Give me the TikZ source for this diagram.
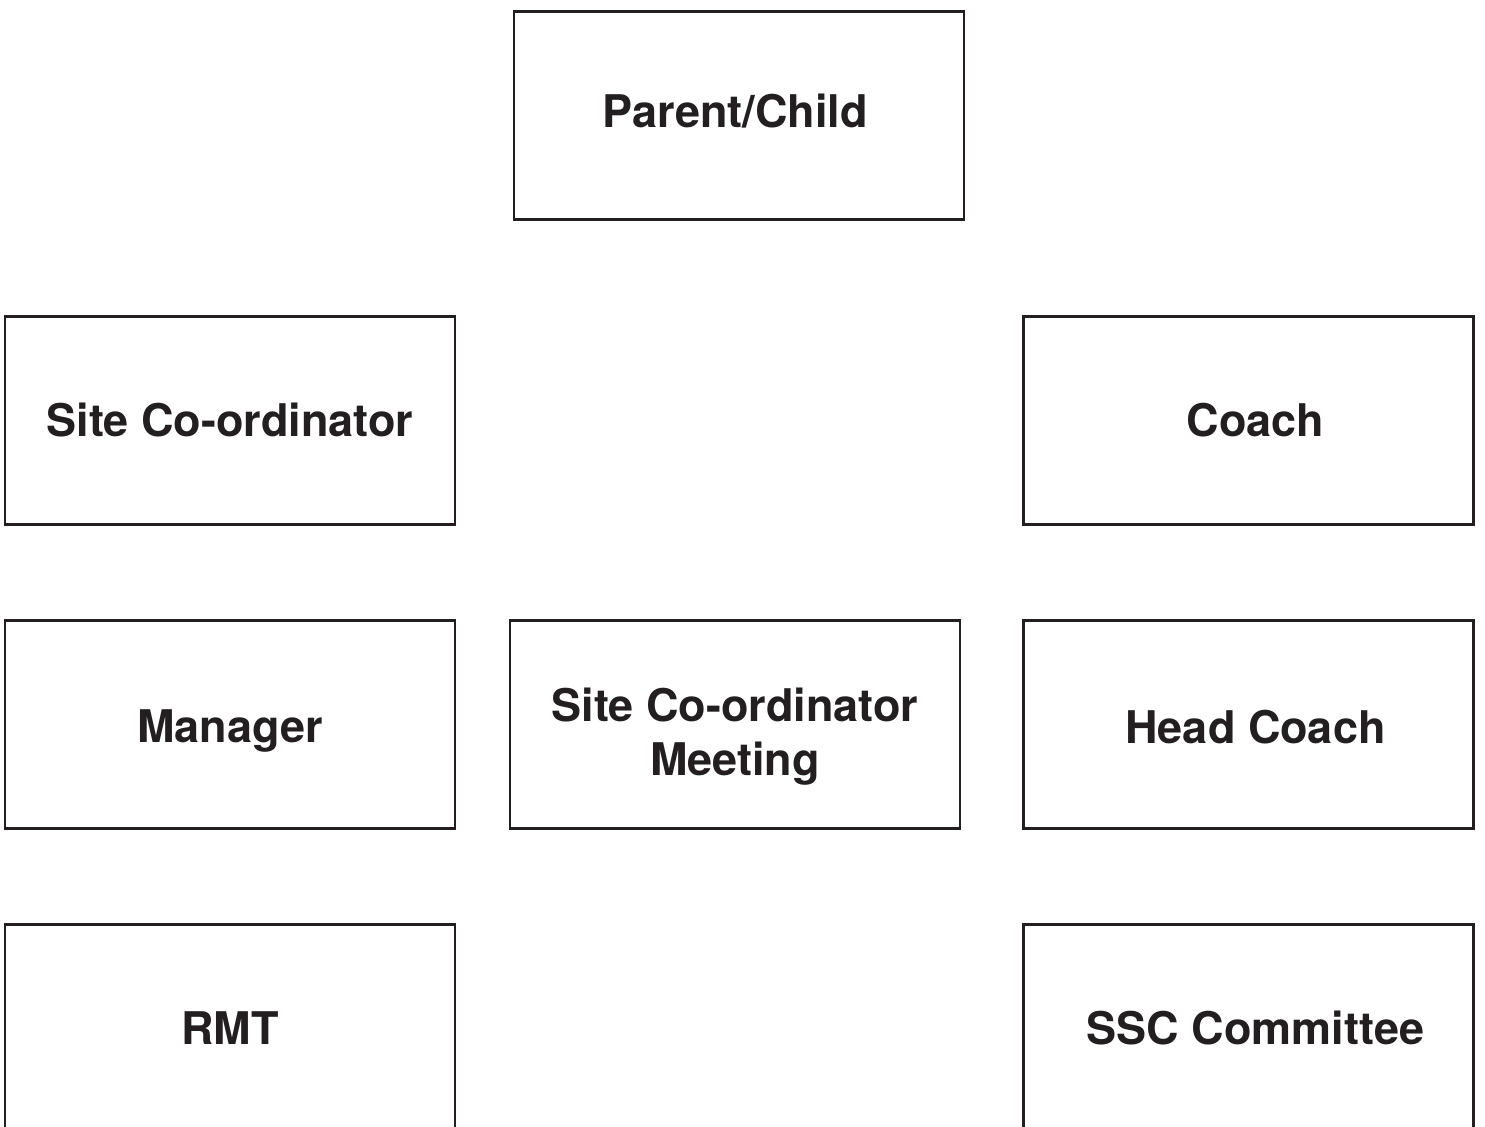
\documentclass[tikz,border=0pt]{standalone}
\usepackage{fontspec}
\setmainfont{TeX Gyre Heros}
\usepackage{tikz}
\definecolor{ink}{HTML}{231F20}

\begin{document}
\begin{tikzpicture}[x=0.5pt,y=-0.5pt]
\tikzstyle{role}=[rectangle, draw=ink, line width=1.1pt, minimum width=225pt, minimum height=104pt, inner sep=0pt, align=center, text=ink, font=\fontsize{22.5}{27}\selectfont\bfseries]
\tikzstyle{caption}=[align=center, text=ink, font=\fontsize{22.5}{27}\selectfont\bfseries]
\useasboundingbox (0,0) rectangle (1485,1127);
\clip (0,0) rectangle (1485,1127);

\node[role] (parent) at (739,115.5) [label={[caption,xshift=-2pt,yshift=2pt]center:{Parent/Child}}]{};

\node[role] (sitecoord) at (230,420.5) {Site Co-ordinator};
\node[role] (coach) at (1248.5,420.5) [label={[caption,xshift=3.5pt]center:{Coach}}]{};

\node[role] (manager) at (230,724.5) [label={[caption,yshift=-3.5pt]center:{Manager}}]{};
\node[role] (meeting) at (735,724.5) [label={[caption,yshift=-6pt]center:{Site Co-ordinator\\Meeting}}]{};
\node[role] (headcoach) at (1248.5,724.5) [label={[caption,xshift=3.5pt,yshift=-1.5pt]center:{Head Coach}}]{};

\node[role] (rmt) at (230,1028.5) {RMT};
\node[role] (ssc) at (1248.5,1028.5) [label={[caption,xshift=3.5pt]center:{SSC Committee}}]{};

\end{tikzpicture}
\end{document}
